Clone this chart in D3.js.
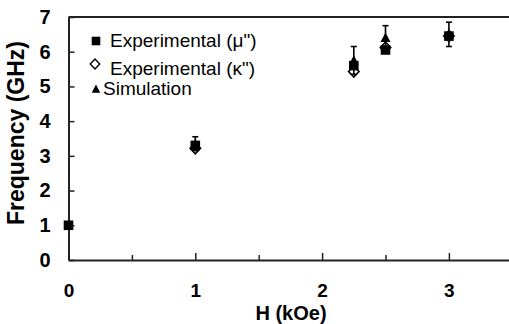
<!DOCTYPE html>
<html>
<head>
<meta charset="utf-8">
<script src="https://cdn.jsdelivr.net/npm/d3@7"></script>
<style>
  html, body { margin: 0; padding: 0; background: #fff; }
  svg { display: block; }
</style>
</head>
<body>
<svg id="chart" width="509" height="324"></svg>
<script>
// ---- data ----
const fieldKOe   = [0, 1, 2.25, 2.5, 3];
const muFreq     = [1.0, 3.3, 5.6, 6.05, 6.45];      // Experimental (μ")  squares
const kappaFreq  = [null, 3.22, 5.43, 6.12, 6.45];   // Experimental (κ")  diamonds
const simFreq    = [null, 3.35, 5.75, 6.4, 6.5];     // Simulation         triangles
const simErr     = [null, 0.2, 0.4, 0.35, 0.35];
const xTicks     = [0, 0.5, 1, 1.5, 2, 2.5, 3, 3.5];
const yTicks     = [0, 1, 2, 3, 4, 5, 6, 7];
const legendLabels = ['Experimental (μ")', 'Experimental (κ")', 'Simulation'];

// ---- layout ----
const svg = d3.select("#chart");
const x0 = 68.5, xEnd = 512.3, yTop = 17, yBot = 260;
const x = d3.scaleLinear().domain([0, 3.5]).range([x0, xEnd]);
const y = d3.scaleLinear().domain([0, 7]).range([yBot, yTop]);
const axisColor = "#222";
const font = "'Liberation Sans', Arial, sans-serif";

// custom symbols
const diamondSym = { draw(ctx, size) { const h = size, w = size * 0.95;
  ctx.moveTo(0, -h); ctx.lineTo(w, 0); ctx.lineTo(0, h); ctx.lineTo(-w, 0); ctx.closePath(); } };
const triSym = { draw(ctx, size) { const h = size;
  ctx.moveTo(0, -h * 1.05); ctx.lineTo(h, h * 0.85); ctx.lineTo(-h, h * 0.85); ctx.closePath(); } };
const squareSym = { draw(ctx, size) { ctx.rect(-size, -size, 2 * size, 2 * size); } };

// ---- axes ----
const xAxis = d3.axisBottom(x).tickValues(xTicks).tickSizeInner(-6).tickSizeOuter(0)
  .tickPadding(24).tickFormat(d => Number.isInteger(d) ? d3.format("d")(d) : "");
const gx = svg.append("g").attr("transform", `translate(0,${yBot})`).call(xAxis);
gx.select(".domain").attr("stroke", axisColor).attr("stroke-width", 2);
gx.selectAll(".tick line").attr("stroke", axisColor).attr("stroke-width", 1.5)
  .attr("y2", d => Number.isInteger(d) ? -7 : -5);
gx.selectAll(".tick text").attr("font-family", font).attr("font-weight", "bold")
  .attr("font-size", 19).attr("fill", "#000");

const yAxis = d3.axisLeft(y).tickValues(yTicks).tickSizeInner(-6).tickSizeOuter(0)
  .tickPadding(18).tickFormat(d3.format("d"));
const gy = svg.append("g").attr("transform", `translate(${x0},0)`).call(yAxis);
gy.select(".domain").attr("stroke", axisColor).attr("stroke-width", 2);
gy.selectAll(".tick line").attr("stroke", axisColor).attr("stroke-width", 1.5);
gy.selectAll(".tick text").attr("font-family", font).attr("font-weight", "bold")
  .attr("font-size", 20).attr("fill", "#000");

// top border
svg.append("line").attr("x1", x0).attr("x2", 509).attr("y1", y(7)).attr("y2", y(7))
  .attr("stroke", axisColor).attr("stroke-width", 2);

// axis titles
svg.append("text").attr("x", 291).attr("y", 320).attr("text-anchor", "middle")
  .attr("font-family", font).attr("font-weight", "bold").attr("font-size", 20)
  .text("H (kOe)");
svg.append("text").attr("transform", "translate(24,133) rotate(-90)").attr("text-anchor", "middle")
  .attr("font-family", font).attr("font-weight", "bold").attr("font-size", 23)
  .text("Frequency (GHz)");

// ---- data marks ----
const pts = fieldKOe.map((h, i) => ({ h, mu: muFreq[i], ka: kappaFreq[i], sim: simFreq[i], err: simErr[i] }));

// diamonds (beneath)
svg.append("g").selectAll("path").data(pts.filter(d => d.ka != null)).join("path")
  .attr("transform", d => `translate(${x(d.h)},${y(d.ka)})`)
  .attr("d", d3.symbol().type(diamondSym).size(5.5)())
  .attr("fill", "#fff").attr("stroke", "#000").attr("stroke-width", 1.6);

// error bars
const eb = svg.append("g").selectAll("g").data(pts.filter(d => d.err != null)).join("g")
  .attr("stroke", "#000").attr("stroke-width", 1.6);
eb.append("line").attr("x1", d => x(d.h)).attr("x2", d => x(d.h))
  .attr("y1", d => y(d.sim + d.err)).attr("y2", d => y(d.sim - d.err));
eb.append("line").attr("x1", d => x(d.h) - 3).attr("x2", d => x(d.h) + 3)
  .attr("y1", d => y(d.sim + d.err)).attr("y2", d => y(d.sim + d.err));
eb.append("line").attr("x1", d => x(d.h) - 3).attr("x2", d => x(d.h) + 3)
  .attr("y1", d => y(d.sim - d.err)).attr("y2", d => y(d.sim - d.err));

// squares
svg.append("g").selectAll("path").data(pts.filter(d => d.mu != null)).join("path")
  .attr("transform", d => `translate(${x(d.h)},${y(d.mu)})`)
  .attr("d", d3.symbol().type(squareSym).size(4.8)())
  .attr("fill", "#000");

// triangles
svg.append("g").selectAll("path").data(pts.filter(d => d.sim != null)).join("path")
  .attr("transform", d => `translate(${x(d.h)},${y(d.sim)})`)
  .attr("d", d3.symbol().type(triSym).size(5)())
  .attr("fill", "#000");

// ---- legend ----
const leg = svg.append("g");
leg.append("path").attr("transform", "translate(96,41)")
  .attr("d", d3.symbol().type(squareSym).size(4.3)()).attr("fill", "#000");
leg.append("path").attr("transform", "translate(95,64)")
  .attr("d", d3.symbol().type(diamondSym).size(5)()).attr("fill", "#fff")
  .attr("stroke", "#000").attr("stroke-width", 1.4);
leg.append("path").attr("transform", "translate(96,89)")
  .attr("d", d3.symbol().type(triSym).size(4.3)()).attr("fill", "#000");
const legPos = [[110, 47], [110, 75], [103, 95]];
leg.selectAll("text").data(legendLabels).join("text")
  .attr("x", (d, i) => legPos[i][0]).attr("y", (d, i) => legPos[i][1])
  .attr("font-family", font).attr("font-size", 19).attr("fill", "#000")
  .text(d => d);
</script>
</body>
</html>
